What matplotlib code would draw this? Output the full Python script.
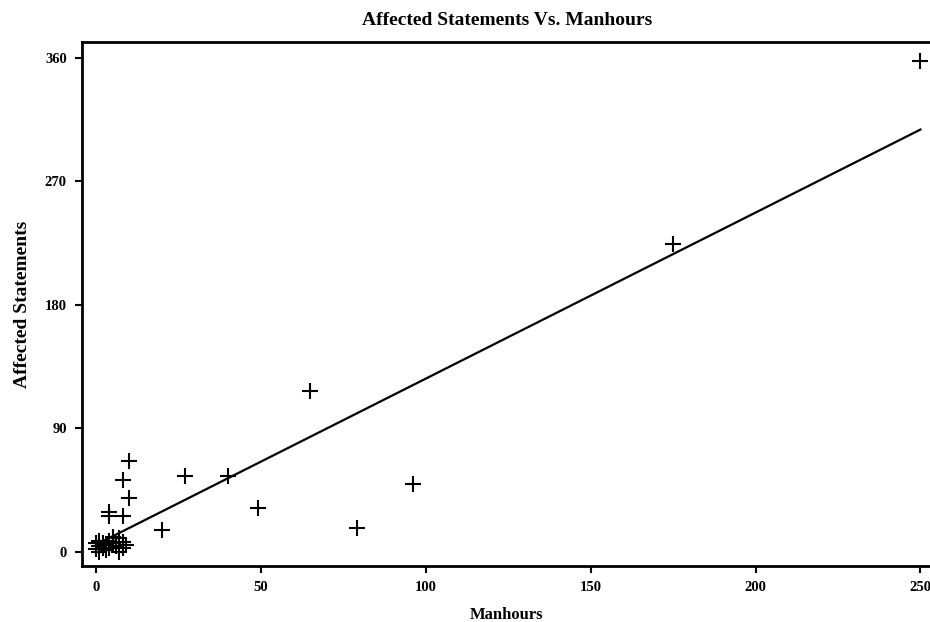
import matplotlib
matplotlib.use("Agg")
import matplotlib.pyplot as plt
import numpy as np

manhours = [250, 175, 65, 96, 79, 49, 40, 27, 20, 10, 8, 10, 4, 4, 8,
            0, 0, 1, 1, 1, 2, 2, 3, 3, 4, 4, 5, 5, 6, 7, 7, 8, 8, 9]
statements = [358, 224, 117, 49, 17, 32, 55, 55, 16, 66, 52, 39, 26, 29, 26,
              2, 6, 4, 0, 8, 3, 6, 1, 5, 8, 3, 11, 6, 4, 0, 10, 3, 7, 5]

fit_intercept = 5.2
fit_slope = 1.21
fit_range = [0, 250]

xticks = [0, 50, 100, 150, 200, 250]
yticks = [0, 90, 180, 270, 360]

plt.rcParams['font.family'] = ['Liberation Serif', 'DejaVu Serif']

fig = plt.figure(figsize=(9.3, 6.22), dpi=100)
ax = fig.add_axes([82/930, 56/622, 850/930, 524/622])

ax.plot(manhours, statements, linestyle='none', marker='+', color='black',
        markersize=11, markeredgewidth=1.5)
fx = np.array(fit_range, dtype=float)
ax.plot(fx, fit_intercept + fit_slope * fx, color='black', linewidth=1.6)

ax.set_xlim(-4.3, 253.5)
ax.set_ylim(-10.4, 371.5)
ax.set_xticks(xticks)
ax.set_yticks(yticks)
ax.set_xticklabels([str(v) for v in xticks], fontsize=10.5, fontweight='bold')
ax.set_yticklabels([str(v) for v in yticks], fontsize=10.5, fontweight='bold')
ax.tick_params(direction='out', length=5, width=1.5, pad=6)
ax.spines['right'].set_visible(False)
for s in ['left', 'bottom', 'top']:
    ax.spines[s].set_linewidth(2)

ax.set_title('Affected Statements Vs. Manhours', fontsize=14, fontweight='bold', pad=12)
ax.set_xlabel('Manhours', fontsize=12, fontweight='bold', labelpad=9)
ax.set_ylabel('Affected Statements', fontsize=14, fontweight='bold', labelpad=10)

fig.savefig('out.png', dpi=100)
